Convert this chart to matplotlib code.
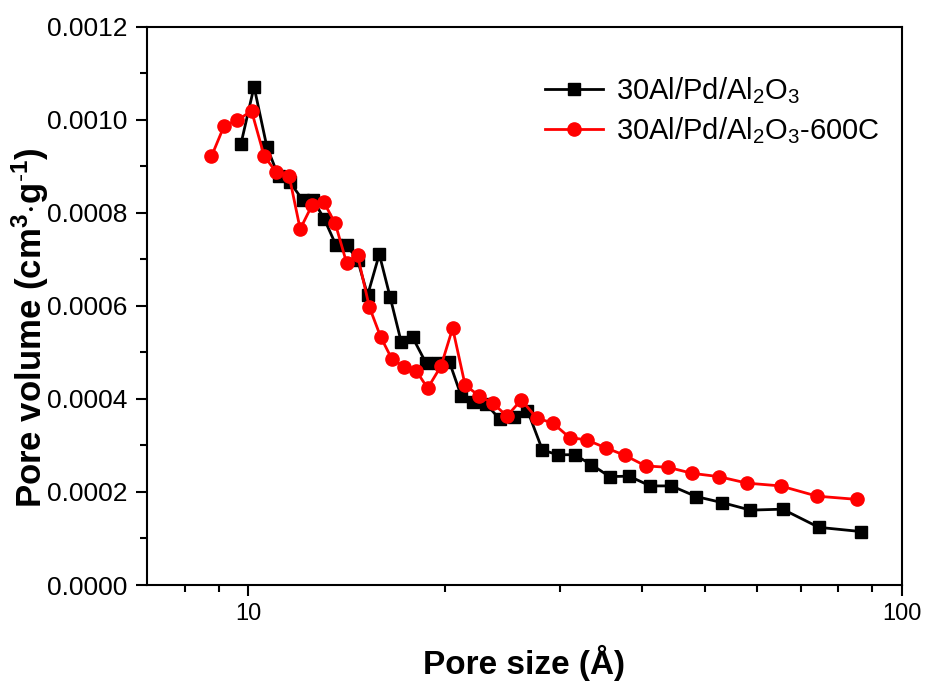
import matplotlib
matplotlib.use("Agg")
import matplotlib.pyplot as plt
from matplotlib.ticker import FixedLocator, NullFormatter, MultipleLocator, FormatStrFormatter

plt.rcParams['font.family'] = ['Liberation Sans', 'DejaVu Sans']
plt.rcParams['mathtext.fontset'] = 'custom'
plt.rcParams['mathtext.rm'] = 'Liberation Sans'
plt.rcParams['mathtext.it'] = 'Liberation Sans:italic'
plt.rcParams['mathtext.bf'] = 'Liberation Sans:bold'

# Series 1: 30Al/Pd/Al2O3
size_a = [9.735, 10.20, 10.67, 11.12, 11.57, 12.10, 12.56, 13.06, 13.61, 14.13,
          14.69, 15.22, 15.86, 16.47, 17.13, 17.84, 18.70, 19.49, 20.30, 21.16,
          22.04, 23.11, 24.23, 25.54, 26.74, 28.19, 29.76, 31.56, 33.48, 35.72,
          38.23, 41.23, 44.41, 48.50, 53.16, 58.68, 65.71, 74.66, 86.50]
vol_a = [0.000947, 0.001071, 0.000942, 0.000878, 0.000866, 0.000828, 0.000828, 0.000787,
         0.000731, 0.000731, 0.000699, 0.000623, 0.000711, 0.000620, 0.000523, 0.000532,
         0.000477, 0.000477, 0.000480, 0.000407, 0.000394, 0.000389, 0.000357, 0.000361,
         0.000375, 0.000290, 0.000280, 0.000280, 0.000259, 0.000233, 0.000234, 0.000213,
         0.000213, 0.000190, 0.000177, 0.000161, 0.000163, 0.000124, 0.000115]

# Series 2: 30Al/Pd/Al2O3-600C
size_b = [8.776, 9.179, 9.619, 10.11, 10.57, 11.02, 11.54, 12.00, 12.51, 13.03,
          13.58, 14.13, 14.69, 15.31, 15.94, 16.59, 17.33, 18.05, 18.81, 19.72,
          20.54, 21.46, 22.57, 23.66, 24.87, 26.16, 27.62, 29.24, 31.01, 32.93,
          35.22, 37.65, 40.55, 43.87, 47.81, 52.47, 57.98, 65.24, 74.21, 85.48]
vol_b = [0.000921, 0.000987, 0.000999, 0.001019, 0.000922, 0.000888, 0.000880, 0.000765,
         0.000816, 0.000824, 0.000777, 0.000693, 0.000709, 0.000598, 0.000533, 0.000485,
         0.000469, 0.000461, 0.000423, 0.000471, 0.000552, 0.000430, 0.000406, 0.000391,
         0.000363, 0.000398, 0.000359, 0.000348, 0.000317, 0.000312, 0.000295, 0.000279,
         0.000256, 0.000253, 0.000240, 0.000233, 0.000219, 0.000213, 0.000191, 0.000184]

labels = ['30Al/Pd/Al$_2$O$_3$', '30Al/Pd/Al$_2$O$_3$-600C']

fig = plt.figure(figsize=(9.25, 6.84), dpi=100)
ax = fig.add_axes([0.1592, 0.1447, 0.8156, 0.8163])

ax.plot(size_a, vol_a, color='black', lw=2, marker='s', ms=8, label=labels[0])
ax.plot(size_b, vol_b, color='#ff0000', lw=2, marker='o', ms=9.5, label=labels[1])

ax.set_xscale('log')
ax.set_xlim(7, 100)
ax.set_ylim(0, 0.0012)

ax.xaxis.set_major_locator(FixedLocator([10, 100]))
ax.xaxis.set_major_formatter(FormatStrFormatter('%d'))
ax.xaxis.set_minor_locator(FixedLocator([8, 9, 20, 30, 40, 50, 60, 70, 80, 90]))
ax.xaxis.set_minor_formatter(NullFormatter())
ax.yaxis.set_major_locator(MultipleLocator(0.0002))
ax.yaxis.set_minor_locator(MultipleLocator(0.0001))
ax.yaxis.set_major_formatter(FormatStrFormatter('%.4f'))

ax.tick_params(which='major', direction='out', length=8, width=1.5)
ax.tick_params(which='minor', direction='out', length=5, width=1.5)
ax.tick_params(axis='y', which='major', labelsize=19, pad=6)
ax.tick_params(axis='x', which='major', labelsize=17, pad=5)
for s in ax.spines.values():
    s.set_linewidth(1.5)

ax.set_xlabel('Pore size (Å)', fontsize=24, fontweight='bold', labelpad=14)
ax.set_ylabel(r'Pore volume (cm$\mathbf{^{3}{\cdot}g^{\text{-}1}}$)', fontsize=25, fontweight='bold')
ax.yaxis.set_label_coords(-0.128, 0.46)

ax.legend(loc='upper left', bbox_to_anchor=(0.492, 0.96), frameon=False, fontsize=21,
          handlelength=2.0, handletextpad=0.45, labelspacing=0.3)

fig.savefig('out.png', dpi=100)
